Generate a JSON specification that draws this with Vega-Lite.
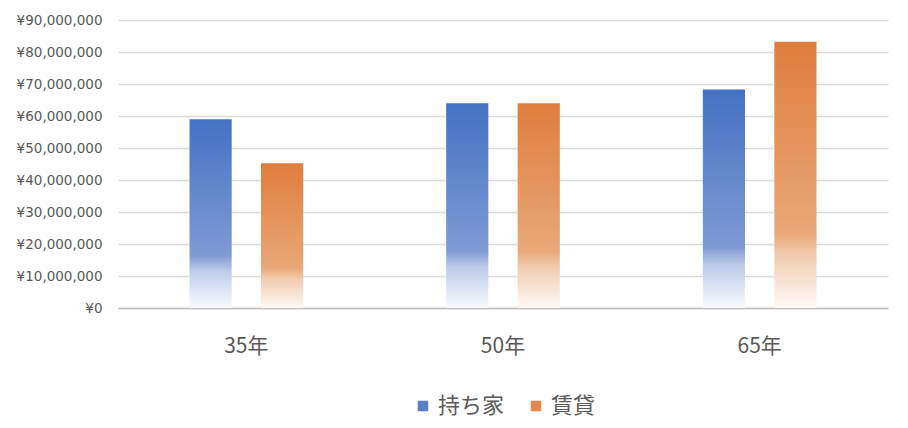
{
  "$schema": "https://vega.github.io/schema/vega-lite/v6.json",
  "autosize": "none",
  "width": 770,
  "height": 288,
  "padding": {"left": 118, "top": 20, "right": 20, "bottom": 120},
  "background": "white",
  "data": {
    "values": [
      {"year": "35年", "type": "持ち家", "value": 59000000},
      {"year": "35年", "type": "賃貸", "value": 45200000},
      {"year": "50年", "type": "持ち家", "value": 64000000},
      {"year": "50年", "type": "賃貸", "value": 64000000},
      {"year": "65年", "type": "持ち家", "value": 68300000},
      {"year": "65年", "type": "賃貸", "value": 83200000}
    ]
  },
  "config": {
    "view": {"stroke": null},
    "font": "Noto Sans CJK JP"
  },
  "encoding": {
    "x": {
      "field": "year", "type": "nominal", "title": null,
      "scale": {"paddingInner": 0, "paddingOuter": 0},
      "axis": {
        "labelAngle": 0, "labelFontSize": 21, "labelColor": "#595959",
        "labelPadding": 27, "ticks": false,
        "domainColor": "#BFBFBF", "domainWidth": 1.5,
        "labelFont": "Noto Sans CJK JP"
      }
    },
    "xOffset": {
      "field": "type", "type": "nominal",
      "scale": {"domain": ["持ち家", "賃貸"], "paddingInner": 0.41, "paddingOuter": 1.09}
    },
    "y": {
      "field": "value", "type": "quantitative", "title": null,
      "scale": {"domain": [0, 90000000], "nice": false},
      "axis": {
        "values": [0, 10000000, 20000000, 30000000, 40000000, 50000000, 60000000, 70000000, 80000000, 90000000],
        "labelExpr": "'¥' + format(datum.value, ',')",
        "labelFont": "DejaVu Sans", "labelFontSize": 13.5, "labelColor": "#595959",
        "labelPadding": 16, "ticks": false, "domain": false,
        "gridColor": "#D9D9D9", "gridWidth": 1.3
      }
    }
  },
  "layer": [
    {
      "mark": {"type": "bar", "opacity": 0},
      "encoding": {
        "color": {
          "field": "type", "type": "nominal",
          "scale": {"domain": ["持ち家", "賃貸"], "range": ["#5A7FC8", "#E3894B"]},
          "legend": {
            "title": null, "orient": "none", "direction": "horizontal",
            "legendX": 294, "legendY": 375,
            "symbolType": "square", "symbolSize": 110, "symbolOpacity": 1,
            "symbolStrokeWidth": 0,
            "labelFontSize": 22, "labelColor": "#595959", "labelFont": "Noto Sans CJK JP",
            "columnPadding": 20, "labelOffset": 4
          }
        }
      }
    },
    {
      "transform": [{"filter": "datum.type === '持ち家'"}],
      "mark": {
        "type": "bar",
        "color": {
          "gradient": "linear", "x1": 0, "y1": 0, "x2": 0, "y2": 1,
          "stops": [
            {"offset": 0, "color": "#4472C4"},
            {"offset": 0.72, "color": "#7E9AD3"},
            {"offset": 0.8, "color": "#BCCAE9"},
            {"offset": 1, "color": "#FAFBFE"}
          ]
        }
      }
    },
    {
      "transform": [{"filter": "datum.type === '賃貸'"}],
      "mark": {
        "type": "bar",
        "color": {
          "gradient": "linear", "x1": 0, "y1": 0, "x2": 0, "y2": 1,
          "stops": [
            {"offset": 0, "color": "#E07D3C"},
            {"offset": 0.72, "color": "#E8A878"},
            {"offset": 0.8, "color": "#F1CBAE"},
            {"offset": 1, "color": "#FEFAF7"}
          ]
        }
      }
    }
  ]
}
